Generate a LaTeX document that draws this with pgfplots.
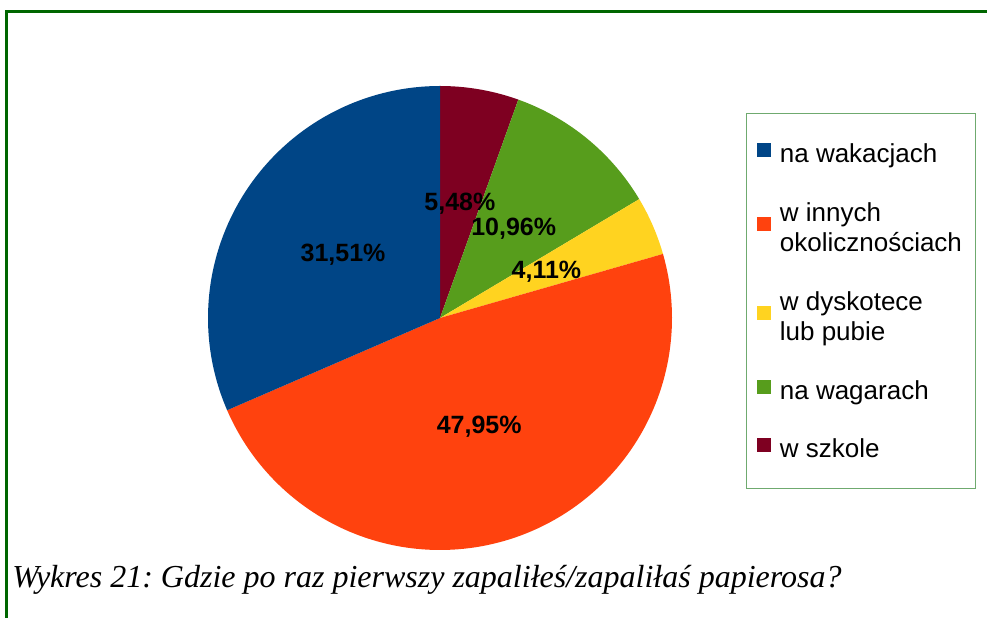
\documentclass[border=0pt]{standalone}
\usepackage{pgfplots}
\pgfplotsset{compat=1.18}
\usepackage{pgfplotstable}
\usepackage{fontspec}
\setmainfont{Liberation Sans}
\newfontfamily\capfont{Liberation Serif}
\definecolor{cwak}{HTML}{004586}
\definecolor{cinn}{HTML}{FF420E}
\definecolor{cdys}{HTML}{FFD320}
\definecolor{cwag}{HTML}{579D1C}
\definecolor{cszk}{HTML}{7E0021}
\definecolor{framegreen}{HTML}{006600}
\definecolor{leggreen}{HTML}{6FAA6F}
\frenchspacing

% share (%) of each slice, clockwise from 12 o'clock
\pgfplotstableread{
value color
5.48  cszk
10.96 cwag
4.11  cdys
47.95 cinn
31.51 cwak
}\piedata

\begin{document}
\begin{tikzpicture}[x=0.75pt,y=0.75pt]
\useasboundingbox (0,0) rectangle (987,617);
\draw[framegreen, line width=2.1pt] (6.3,-3) -- (6.3,605.5) -- (992,605.5);
\coordinate (pc) at (440,299);
\begin{axis}[
  at={(pc)}, anchor=center,
  scale only axis, width=348pt, height=348pt,
  xmin=-1, xmax=1, ymin=-1, ymax=1,
  hide axis, clip=false,
  /pgf/number format/assume math mode=true,
  legend style={
    at={(axis description cs:1.1595,0.9425)}, anchor=north west,
    draw=leggreen, line width=0.8pt,
    inner xsep=8pt, inner ysep=19.5pt,
    row sep=22.8pt, column sep=4.5pt,
    font=\fontsize{19.5pt}{22.5pt}\selectfont,
    cells={align=left, inner sep=0pt},
  },
  legend cell align=left,
  reverse legend,
  legend image code/.code={\fill[#1] (0pt,-3pt) rectangle (10.5pt,7.5pt);},
  legend entries={\strut w szkole, \strut na wagarach, {\strut w dyskotece\\\strut lub pubie}, {\strut w innych\\\strut okoliczności\-ach}, \strut na wakacjach},
]
\pgfplotstablegetrowsof{\piedata}
\pgfmathtruncatemacro{\lastrow}{\pgfplotsretval-1}
\def\pietotal{0}
\pgfplotsforeachungrouped \i in {0,...,\lastrow}{%
  \pgfplotstablegetelem{\i}{value}\of\piedata
  \pgfmathsetmacro\pietotal{\pietotal+\pgfplotsretval}%
}
% slices
\def\piecum{0}
\pgfplotsforeachungrouped \i in {0,...,\lastrow}{%
  \pgfplotstablegetelem{\i}{value}\of\piedata \let\sliceval\pgfplotsretval
  \pgfplotstablegetelem{\i}{color}\of\piedata \let\slicecol\pgfplotsretval
  \pgfmathsetmacro\angstart{90-360*(\piecum/\pietotal)}%
  \pgfmathsetmacro\piecum{\piecum+\sliceval}%
  \pgfmathsetmacro\angend{90-360*(\piecum/\pietotal)}%
  \edef\tmp{\noexpand\addplot[fill=\slicecol, draw=none, domain=\angend:\angstart, samples=120] ({cos(x)},{sin(x)}) -- (axis cs:0,0) -- cycle;}%
  \tmp
}
% labels
\def\piecum{0}
\pgfplotsforeachungrouped \i in {0,...,\lastrow}{%
  \pgfplotstablegetelem{\i}{value}\of\piedata \let\sliceval\pgfplotsretval
  \pgfmathsetmacro\angstart{90-360*(\piecum/\pietotal)}%
  \pgfmathsetmacro\piecum{\piecum+\sliceval}%
  \pgfmathsetmacro\angend{90-360*(\piecum/\pietotal)}%
  \pgfmathsetmacro\lx{0.5*cos((\angstart+\angend)/2)}%
  \pgfmathsetmacro\ly{0.5*sin((\angstart+\angend)/2)}%
  \edef\tmp{\noexpand\node[anchor=center, inner sep=0pt, font=\noexpand\bfseries\noexpand\fontsize{18.75pt}{22pt}\noexpand\selectfont] at (axis cs:\lx,\ly) {\noexpand\pgfmathprintnumber[fixed, fixed zerofill, precision=2, use comma]{\sliceval}\noexpand\%};}%
  \tmp
}
\end{axis}
\node[anchor=base west, inner sep=0pt, font=\capfont\itshape\fontsize{24pt}{28pt}\selectfont] at (12,30) {Wykres 21: Gdzie po raz pierwszy zapaliłeś/zapaliłaś papierosa?};
\end{tikzpicture}
\end{document}
